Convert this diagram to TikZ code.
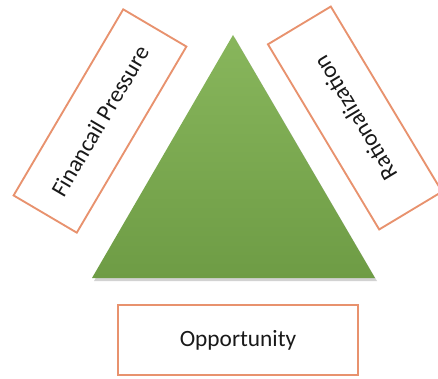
\documentclass[tikz,border=0pt]{standalone}
\usepackage{fontspec}
\setmainfont{Carlito}
\definecolor{boxline}{HTML}{E8926E}
\definecolor{leaftop}{HTML}{88B65C}
\definecolor{leafbot}{HTML}{6E9C45}
\begin{document}
\begin{tikzpicture}[
x=0.75pt, y=-0.75pt,
side/.style={rectangle, draw=boxline, line width=1.4pt, fill=white, text=black!90, font=\fontsize{17.5}{21}\selectfont},
tilted/.style={side, minimum width=162pt, minimum height=55pt},
flat/.style={side, minimum width=180pt, minimum height=52pt},
]

% page frame
\useasboundingbox (0,0) rectangle (438,378);

% triangle corners
\coordinate (top) at (233,35);
\coordinate (left) at (92,278);
\coordinate (right) at (375,278);

% soft shadow and the triangle itself
\fill[black!35, opacity=0.5] ([shift={(2,3)}]top) -- ([shift={(2,3)}]left) -- ([shift={(2,3)}]right) -- cycle;
\shade[top color=leaftop, bottom color=leafbot] (top) -- (left) -- (right) -- cycle;

% the three labels round it
\node[tilted, rotate=59.5] (pressure) at (100,121) {Financail Pressure};
\node[tilted, rotate=121] (reason) at (355,118) {Rationalization};
\node[flat] (chance) at (238,340) {Opportunity};

\end{tikzpicture}
\end{document}
